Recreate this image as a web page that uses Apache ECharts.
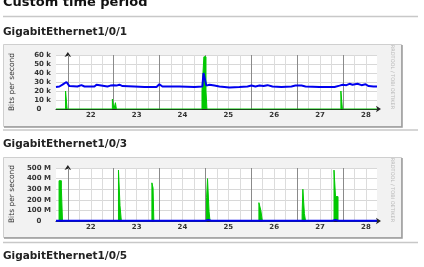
<!DOCTYPE html>
<html><head><meta charset="utf-8">
<script src="https://cdn.jsdelivr.net/npm/echarts@6/dist/echarts.min.js"></script>
<style>html,body{margin:0;padding:0;background:#fff;overflow:hidden}#c{width:424px;height:267px}</style>
</head><body><div id="c"></div>
<script>
// x unit: hours from Oct 22 00:00
const dayLabels = ['22','23','24','25','26','27','28'];
const labelHours = [12,36,60,84,108,132,156];
const dayStarts = [0,24,48,72,96,120,144];
const minorHours = [6,12,18,30,36,42,54,60,66,78,84,90,102,108,114,126,132,138,150,156];
const xMin = -6.2, xMax = 161.8;

const panelTitles = ['GigabitEthernet1/0/1','GigabitEthernet1/0/3','GigabitEthernet1/0/5'];

// GigabitEthernet1/0/1 (k bits/s)
const out1T = [-6.2,-4.4,-2.8,-1.8,-0.7,-0.2,0.8,5.0,7.1,8.7,13.9,15.0,16.0,20.7,22.3,23.9,25.4,27.0,28.6,34.8,40.1,46.4,47.9,49.5,58.4,66.3,70.4,71.0,72.0,72.5,74.1,76.7,79.3,84.6,89.8,94.0,96.1,98.2,100.3,102.4,104.5,105.5,107.1,111.8,117.0,119.1,122.3,124.4,131.7,139.6,142.2,143.8,145.8,147.4,149.0,150.0,151.6,152.6,153.7,155.8,157.4,160.0,161.8];
const out1V = [24.5,25,27,28.5,30,28,25.5,25,26.5,25,25,27,25,25,26,26.5,26,27,25.5,25,24.5,24.5,27.5,25,25,24.5,25,40,40,26,27,26,25,24,24.5,25,26,25,26,25.5,26.5,27,25,24.5,25,26,26,25,24.5,24.5,26,27,26.5,28,27,29,28,29,26.5,27.5,25.5,25,25];
const in1T = [-6.2,-1.2,-1.2,-0.4,-0.4,23.3,23.3,24.1,24.1,24.9,24.9,25.4,25.4,70.2,70.2,71.2,71.2,72.3,72.3,72.8,72.8,142.9,142.9,143.7,143.7,161.8];
const in1V = [0,0,20,20,0,0,11,11,0,0,7,7,0,0,20,20,58,58,20,20,0,0,20,20,0,0];
const y1Ticks = [0,10,20,30,40,50,60];

// GigabitEthernet1/0/3 (M bits/s)
const out2T = [-6.2,-5,-4,-3,25.5,26.5,27.5,43.5,44.5,45.5,72,73.5,75,100,101,102,122.5,123.5,124.5,138.5,140,141.5,161.8];
const out2V = [2,2,10,2,2,12,2,2,9,2,2,10,2,2,6,2,2,6,2,2,10,2,2];
const in2T = [-6.2,-4.6,-4.6,-3.4,-3.4,-2.8,-2.8,26.5,26.5,27.3,27.3,28.0,28.0,44.0,44.0,44.6,44.6,45.0,45.0,72.6,72.6,73.1,73.1,73.9,73.9,74.4,74.4,100.0,100.0,101.0,101.0,101.8,101.8,122.6,122.6,123.0,123.0,123.8,123.8,124.4,124.4,139.3,139.3,140.1,140.1,141.4,141.4,161.8];
const in2V = [0,0,380,380,310,310,0,0,480,480,145,145,0,0,360,360,310,310,0,0,220,220,400,400,90,90,0,0,173,173,100,100,0,0,70,70,300,300,70,70,0,0,480,480,230,230,0,0];
const y2Ticks = [0,100,200,300,400,500];

const zip = (t, v) => t.map((x, i) => [x, v[i]]);
const FONT = 'DejaVu Sans';
const GREEN = '#00c800', BLUE = '#0000ee';

function xAxisFor(gi) {
  return {
    type: 'value', gridIndex: gi, min: xMin, max: xMax,
    axisLine: { show: true, onZero: false, lineStyle: { color: '#222', width: 1 },
      symbol: ['none', 'arrow'], symbolSize: [5, 5], symbolOffset: [0, 4] },
    axisTick: { show: false },
    splitLine: { show: false },
    axisLabel: { customValues: labelHours, margin: 3, fontSize: 7, fontWeight: 'bold', color: '#333', fontFamily: FONT,
      formatter: v => dayLabels[labelHours.indexOf(v)] || '' }
  };
}
function yAxisFor(gi, ticks, unit) {
  return {
    type: 'value', gridIndex: gi, min: ticks[0], max: ticks[ticks.length - 1], interval: ticks[1] - ticks[0],
    axisLine: { show: true, lineStyle: { color: '#222', width: 1 }, symbol: ['none', 'arrow'], symbolSize: [5, 5], symbolOffset: [0, 3] },
    axisTick: { show: false },
    splitLine: { show: true, lineStyle: { color: '#d8d8d8', width: 1 } },
    axisLabel: { margin: 5, fontSize: 7, fontWeight: 'bold', color: '#333', fontFamily: FONT,
      formatter: v => v === 0 ? '0    ' : v + ' ' + unit }
  };
}
function gridLines(gi) {
  const data = minorHours.map(h => ({ xAxis: h, lineStyle: { color: '#dcdcdc', width: 1, type: 'solid' } }))
    .concat(dayStarts.map(h => ({ xAxis: h, lineStyle: { color: '#8a8a8a', width: 1, type: 'solid' } })));
  return { type: 'line', xAxisIndex: gi, yAxisIndex: gi, data: [], z: 1, silent: true,
    markLine: { silent: true, symbol: ['none', 'none'], label: { show: false }, animation: false, z: 1, data: data } };
}
function area(gi, t, v) {
  return { type: 'line', xAxisIndex: gi, yAxisIndex: gi, data: zip(t, v), showSymbol: false, z: 3,
    lineStyle: { color: GREEN, width: 1 }, areaStyle: { color: GREEN, opacity: 1 }, animation: false };
}
function line(gi, t, v) {
  return { type: 'line', xAxisIndex: gi, yAxisIndex: gi, data: zip(t, v), showSymbol: false, z: 4,
    lineStyle: { color: BLUE, width: 2 }, animation: false };
}

function boxGraphics(top, h) {
  return [
    { type: 'rect', shape: { x: 3.5, y: top + 0.5, width: 398, height: h }, style: { fill: '#f2f2f2', stroke: '#cfcfcf', lineWidth: 1 }, z: -10 },
    { type: 'polyline', shape: { points: [[402, top + 1], [402, top + h + 1], [4, top + h + 1]] }, style: { stroke: '#9a9a9a', lineWidth: 1.5, fill: null }, z: -9 }
  ];
}
function sep(y) {
  return { type: 'line', shape: { x1: 3, y1: y, x2: 418, y2: y }, style: { stroke: '#c8c8c8', lineWidth: 1.5 }, z: -10 };
}
function txt(s, x, y, opts) {
  return Object.assign({ type: 'text', x: x, y: y, style: Object.assign({ text: s, fontFamily: FONT }, opts) });
}

const graphics = [
  txt('Custom time period', 3, 2.5, { fontSize: 13, fontWeight: 'bold', fill: '#111', verticalAlign: 'middle' }),
  sep(16.5),
  txt(panelTitles[0], 3, 32, { fontSize: 10.5, fontWeight: 'bold', fill: '#222', verticalAlign: 'middle' }),
  ...boxGraphics(44, 82),
  sep(130),
  txt(panelTitles[1], 3, 144, { fontSize: 10.5, fontWeight: 'bold', fill: '#222', verticalAlign: 'middle' }),
  ...boxGraphics(157, 80),
  sep(242.5),
  txt(panelTitles[2], 3, 256, { fontSize: 10.5, fontWeight: 'bold', fill: '#222', verticalAlign: 'middle' }),
  Object.assign(txt('Bits per second', 12, 82, { fontSize: 7.5, fill: '#333', align: 'center', verticalAlign: 'middle' }), { rotation: Math.PI / 2 }),
  Object.assign(txt('Bits per second', 12, 194, { fontSize: 7.5, fill: '#333', align: 'center', verticalAlign: 'middle' }), { rotation: Math.PI / 2 }),
  Object.assign(txt('RRDTOOL / TOBI OETIKER', 392, 77, { fontSize: 5, fill: '#b8b8b8', align: 'center', verticalAlign: 'middle' }), { rotation: -Math.PI / 2 }),
  Object.assign(txt('RRDTOOL / TOBI OETIKER', 392, 190, { fontSize: 5, fill: '#b8b8b8', align: 'center', verticalAlign: 'middle' }), { rotation: -Math.PI / 2 })
];

const chart = echarts.init(document.getElementById('c'), null, { renderer: 'canvas' });
chart.setOption({
  animation: false,
  backgroundColor: '#fff',
  grid: [
    { left: 56, top: 55, width: 321, height: 54, show: true, backgroundColor: '#fff', borderWidth: 0 },
    { left: 56, top: 168, width: 321, height: 53, show: true, backgroundColor: '#fff', borderWidth: 0 }
  ],
  xAxis: [xAxisFor(0), xAxisFor(1)],
  yAxis: [yAxisFor(0, y1Ticks, 'k'), yAxisFor(1, y2Ticks, 'M')],
  series: [
    gridLines(0), gridLines(1),
    area(0, in1T, in1V), line(0, out1T, out1V),
    area(1, in2T, in2V), line(1, out2T, out2V)
  ],
  graphic: graphics
});
</script></body></html>
